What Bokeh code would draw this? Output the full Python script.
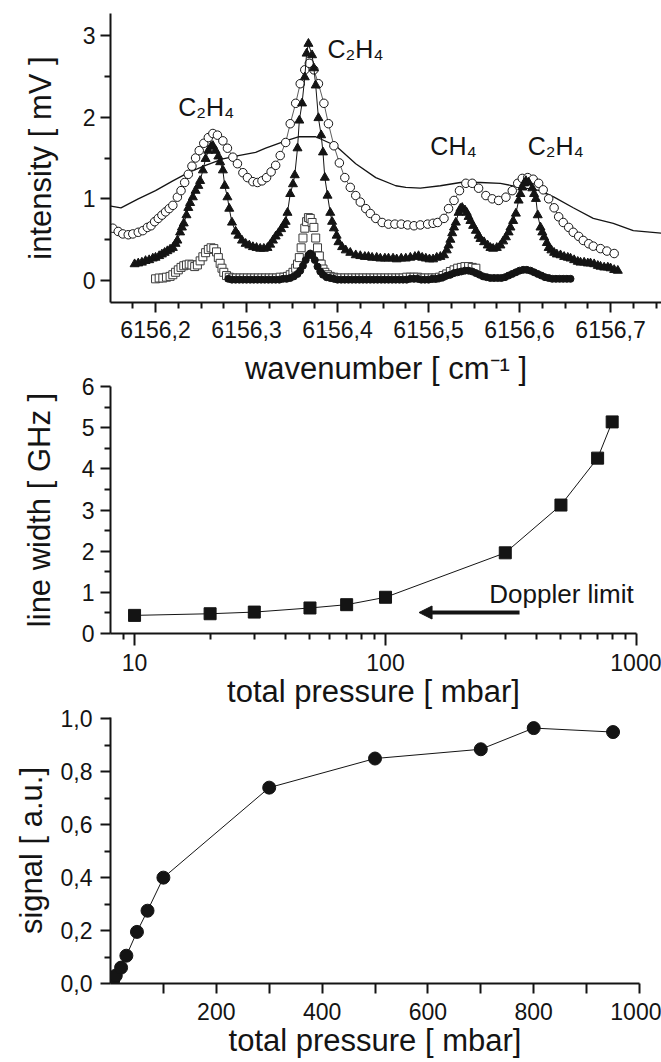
from bokeh.plotting import figure
from bokeh.models import Range1d, FixedTicker, Label, Arrow, NormalHead
from bokeh.layouts import column
from bokeh.embed import file_html
from bokeh.resources import INLINE

FONT = "Liberation Sans"
INK = "#141414"

# ---------------- panel 1: spectra ----------------
wn_ticks = [6156.2, 6156.3, 6156.4, 6156.5, 6156.6, 6156.7]
wn_labels = ["6156,2", "6156,3", "6156,4", "6156,5", "6156,6", "6156,7"]
wn_minor = [6156.15, 6156.175, 6156.225, 6156.25, 6156.275, 6156.325, 6156.35, 6156.375,
            6156.425, 6156.45, 6156.475, 6156.525, 6156.55, 6156.575, 6156.625, 6156.65,
            6156.675, 6156.725, 6156.75]
int_ticks = [0, 1, 2, 3]
int_minor = [0.5, 1.5, 2.5]

line_x = [6156.151, 6156.162, 6156.181, 6156.200, 6156.219, 6156.236, 6156.255, 6156.274, 6156.291, 6156.310,
          6156.321, 6156.343, 6156.357, 6156.376, 6156.398, 6156.420, 6156.442, 6156.464, 6156.475, 6156.491,
          6156.513, 6156.535, 6156.557, 6156.579, 6156.601, 6156.623, 6156.638, 6156.659, 6156.681, 6156.703,
          6156.725, 6156.756]
line_y = [0.91, 0.89, 1.00, 1.10, 1.22, 1.32, 1.41, 1.49, 1.53, 1.57,
          1.62, 1.71, 1.76, 1.76, 1.65, 1.43, 1.26, 1.16, 1.14, 1.13,
          1.16, 1.20, 1.20, 1.19, 1.14, 1.10, 1.02, 0.89, 0.76, 0.70,
          0.61, 0.58]

circ_x = [6156.153, 6156.159, 6156.164, 6156.170, 6156.175, 6156.181, 6156.186, 6156.191, 6156.195, 6156.199,
          6156.203, 6156.207, 6156.211, 6156.215, 6156.219, 6156.224, 6156.228, 6156.232, 6156.236, 6156.240,
          6156.244, 6156.248, 6156.253, 6156.258, 6156.263, 6156.268, 6156.274, 6156.279, 6156.285, 6156.290,
          6156.296, 6156.301, 6156.307, 6156.312, 6156.317, 6156.322, 6156.327, 6156.332, 6156.337, 6156.343,
          6156.348, 6156.354, 6156.359, 6156.364, 6156.369, 6156.374, 6156.379, 6156.385, 6156.390, 6156.396,
          6156.402, 6156.408, 6156.414, 6156.420, 6156.425, 6156.431, 6156.436, 6156.442, 6156.449, 6156.456,
          6156.463, 6156.470, 6156.477, 6156.484, 6156.491, 6156.499, 6156.505, 6156.510, 6156.517, 6156.522,
          6156.528, 6156.534, 6156.541, 6156.548, 6156.555, 6156.563, 6156.570, 6156.577, 6156.585, 6156.592,
          6156.598, 6156.603, 6156.609, 6156.615, 6156.621, 6156.626, 6156.632, 6156.638, 6156.643, 6156.648,
          6156.654, 6156.659, 6156.665, 6156.670, 6156.676, 6156.681, 6156.689, 6156.696, 6156.704]
circ_y = [0.64, 0.60, 0.57, 0.56, 0.57, 0.59, 0.61, 0.65, 0.67, 0.72,
          0.76, 0.80, 0.84, 0.88, 0.92, 1.02, 1.10, 1.20, 1.30, 1.40,
          1.50, 1.59, 1.68, 1.75, 1.80, 1.78, 1.71, 1.62, 1.51, 1.43,
          1.32, 1.26, 1.21, 1.20, 1.22, 1.26, 1.33, 1.41, 1.53, 1.69,
          1.92, 2.17, 2.41, 2.58, 2.66, 2.58, 2.41, 2.17, 1.92, 1.65,
          1.44, 1.26, 1.14, 1.04, 0.96, 0.88, 0.82, 0.76, 0.71, 0.69,
          0.69, 0.69, 0.68, 0.67, 0.68, 0.69, 0.70, 0.71, 0.76, 0.88,
          0.98, 1.10, 1.19, 1.19, 1.13, 1.04, 1.00, 0.98, 1.02, 1.10,
          1.19, 1.25, 1.26, 1.24, 1.19, 1.11, 1.00, 0.89, 0.78, 0.71,
          0.65, 0.59, 0.54, 0.49, 0.45, 0.42, 0.39, 0.36, 0.33]

tri_x = [6156.177, 6156.181, 6156.185, 6156.189, 6156.193, 6156.197, 6156.200, 6156.204, 6156.207, 6156.210,
         6156.213, 6156.216, 6156.219, 6156.222, 6156.224, 6156.227, 6156.229, 6156.231, 6156.234, 6156.236,
         6156.238, 6156.241, 6156.244, 6156.247, 6156.249, 6156.252, 6156.255, 6156.258, 6156.261, 6156.263,
         6156.266, 6156.269, 6156.271, 6156.274, 6156.276, 6156.279, 6156.281, 6156.284, 6156.288, 6156.291,
         6156.295, 6156.299, 6156.303, 6156.307, 6156.311, 6156.315, 6156.319, 6156.323, 6156.326, 6156.329,
         6156.332, 6156.335, 6156.338, 6156.341, 6156.343, 6156.345, 6156.348, 6156.351, 6156.353, 6156.356,
         6156.358, 6156.361, 6156.364, 6156.366, 6156.368, 6156.372, 6156.374, 6156.376, 6156.379, 6156.382,
         6156.384, 6156.386, 6156.389, 6156.392, 6156.394, 6156.396, 6156.399, 6156.401, 6156.405, 6156.409,
         6156.414, 6156.420, 6156.425, 6156.430, 6156.434, 6156.438, 6156.443, 6156.447, 6156.452, 6156.456,
         6156.461, 6156.465, 6156.470, 6156.475, 6156.480, 6156.485, 6156.489, 6156.493, 6156.497, 6156.501,
         6156.505, 6156.509, 6156.513, 6156.517, 6156.520, 6156.522, 6156.524, 6156.526, 6156.528, 6156.530,
         6156.533, 6156.535, 6156.537, 6156.540, 6156.542, 6156.544, 6156.546, 6156.549, 6156.552, 6156.555,
         6156.557, 6156.561, 6156.565, 6156.568, 6156.571, 6156.575, 6156.579, 6156.582, 6156.585, 6156.588,
         6156.590, 6156.593, 6156.596, 6156.599, 6156.601, 6156.603, 6156.605, 6156.607, 6156.610, 6156.614,
         6156.616, 6156.618, 6156.620, 6156.623, 6156.625, 6156.627, 6156.630, 6156.632, 6156.635, 6156.638,
         6156.641, 6156.645, 6156.649, 6156.653, 6156.656, 6156.660, 6156.664, 6156.667, 6156.671, 6156.675,
         6156.678, 6156.682, 6156.686, 6156.689, 6156.693, 6156.697, 6156.700, 6156.704, 6156.708]
tri_y = [0.20, 0.21, 0.22, 0.24, 0.25, 0.27, 0.28, 0.30, 0.32, 0.34,
         0.36, 0.38, 0.40, 0.45, 0.49, 0.59, 0.65, 0.70, 0.80, 0.89,
         0.95, 1.02, 1.10, 1.16, 1.22, 1.35, 1.49, 1.59, 1.64, 1.65,
         1.59, 1.52, 1.45, 1.35, 1.16, 1.02, 0.88, 0.71, 0.60, 0.55,
         0.49, 0.45, 0.43, 0.41, 0.40, 0.39, 0.39, 0.40, 0.44, 0.49,
         0.54, 0.58, 0.63, 0.68, 0.72, 0.83, 1.06, 1.18, 1.29, 1.62,
         1.96, 2.17, 2.49, 2.78, 2.90, 2.76, 2.60, 2.39, 1.99, 1.78,
         1.57, 1.26, 1.04, 0.83, 0.72, 0.64, 0.55, 0.47, 0.41, 0.37,
         0.34, 0.31, 0.30, 0.29, 0.29, 0.28, 0.28, 0.27, 0.27, 0.27,
         0.27, 0.26, 0.27, 0.27, 0.28, 0.29, 0.30, 0.28, 0.27, 0.26,
         0.26, 0.28, 0.29, 0.31, 0.37, 0.43, 0.50, 0.58, 0.65, 0.71,
         0.83, 0.88, 0.89, 0.86, 0.83, 0.78, 0.73, 0.67, 0.61, 0.55,
         0.51, 0.47, 0.43, 0.40, 0.39, 0.40, 0.43, 0.48, 0.53, 0.59,
         0.65, 0.73, 0.82, 0.98, 1.06, 1.14, 1.19, 1.22, 1.20, 1.13,
         1.06, 1.00, 0.80, 0.65, 0.59, 0.53, 0.46, 0.40, 0.37, 0.34,
         0.32, 0.31, 0.29, 0.28, 0.27, 0.25, 0.23, 0.22, 0.22, 0.21,
         0.21, 0.20, 0.18, 0.17, 0.16, 0.16, 0.15, 0.13, 0.12]

sq_x = [6156.200, 6156.204, 6156.208, 6156.212, 6156.216, 6156.219, 6156.222, 6156.225, 6156.228, 6156.231,
        6156.234, 6156.237, 6156.240, 6156.243, 6156.246, 6156.249, 6156.252, 6156.255, 6156.258, 6156.261,
        6156.264, 6156.267, 6156.269, 6156.271, 6156.273, 6156.275, 6156.278, 6156.281, 6156.285, 6156.289,
        6156.293, 6156.297, 6156.301, 6156.305, 6156.309, 6156.313, 6156.317, 6156.321, 6156.325, 6156.329,
        6156.333, 6156.337, 6156.341, 6156.345, 6156.348, 6156.351, 6156.354, 6156.356, 6156.358, 6156.360,
        6156.362, 6156.364, 6156.366, 6156.368, 6156.370, 6156.372, 6156.374, 6156.376, 6156.378, 6156.380,
        6156.382, 6156.384, 6156.386, 6156.389, 6156.392, 6156.396, 6156.400, 6156.404, 6156.408, 6156.412,
        6156.416, 6156.420, 6156.424, 6156.428, 6156.432, 6156.436, 6156.440, 6156.444, 6156.448, 6156.452,
        6156.456, 6156.460, 6156.464, 6156.468, 6156.472, 6156.476, 6156.480, 6156.484, 6156.488, 6156.492,
        6156.496, 6156.500, 6156.504, 6156.508, 6156.512, 6156.516, 6156.520, 6156.524, 6156.528, 6156.532,
        6156.536, 6156.540, 6156.544, 6156.548, 6156.552]
sq_y = [0.02, 0.03, 0.03, 0.04, 0.05, 0.07, 0.10, 0.13, 0.16, 0.18,
        0.19, 0.20, 0.19, 0.17, 0.19, 0.24, 0.29, 0.34, 0.38, 0.40,
        0.39, 0.35, 0.28, 0.21, 0.15, 0.10, 0.06, 0.04, 0.03, 0.03,
        0.03, 0.03, 0.03, 0.03, 0.03, 0.03, 0.03, 0.03, 0.03, 0.03,
        0.03, 0.04, 0.04, 0.05, 0.07, 0.10, 0.15, 0.20, 0.28, 0.40,
        0.52, 0.64, 0.72, 0.77, 0.76, 0.71, 0.65, 0.52, 0.40, 0.30,
        0.20, 0.14, 0.10, 0.07, 0.05, 0.04, 0.03, 0.03, 0.03, 0.03,
        0.03, 0.03, 0.03, 0.03, 0.03, 0.03, 0.03, 0.03, 0.03, 0.03,
        0.03, 0.03, 0.03, 0.03, 0.03, 0.04, 0.04, 0.04, 0.04, 0.03,
        0.03, 0.03, 0.03, 0.03, 0.04, 0.06, 0.08, 0.11, 0.13, 0.15,
        0.16, 0.17, 0.17, 0.16, 0.15]

dot_x = [6156.280, 6156.284, 6156.288, 6156.292, 6156.296, 6156.300, 6156.304, 6156.308, 6156.312, 6156.316,
         6156.320, 6156.324, 6156.328, 6156.332, 6156.336, 6156.340, 6156.344, 6156.348, 6156.352, 6156.356,
         6156.359, 6156.362, 6156.365, 6156.368, 6156.370, 6156.372, 6156.375, 6156.378, 6156.381, 6156.384,
         6156.388, 6156.392, 6156.396, 6156.400, 6156.404, 6156.408, 6156.412, 6156.416, 6156.420, 6156.424,
         6156.428, 6156.432, 6156.436, 6156.440, 6156.444, 6156.448, 6156.452, 6156.456, 6156.460, 6156.464,
         6156.468, 6156.472, 6156.476, 6156.480, 6156.484, 6156.488, 6156.492, 6156.496, 6156.500, 6156.504,
         6156.508, 6156.512, 6156.516, 6156.520, 6156.524, 6156.528, 6156.532, 6156.536, 6156.540, 6156.544,
         6156.548, 6156.552, 6156.556, 6156.560, 6156.564, 6156.568, 6156.572, 6156.576, 6156.580, 6156.584,
         6156.588, 6156.592, 6156.596, 6156.600, 6156.604, 6156.608, 6156.612, 6156.616, 6156.620, 6156.624,
         6156.628, 6156.632, 6156.636, 6156.640, 6156.644, 6156.648, 6156.652, 6156.656]
dot_y = [0.02, 0.01, 0.01, 0.01, 0.01, 0.01, 0.01, 0.01, 0.01, 0.01,
         0.01, 0.01, 0.01, 0.01, 0.01, 0.02, 0.02, 0.03, 0.05, 0.08,
         0.12, 0.18, 0.25, 0.31, 0.33, 0.31, 0.25, 0.17, 0.11, 0.07,
         0.04, 0.03, 0.02, 0.01, 0.01, 0.01, 0.01, 0.01, 0.01, 0.01,
         0.01, 0.01, 0.01, 0.01, 0.01, 0.01, 0.01, 0.01, 0.01, 0.01,
         0.01, 0.01, 0.01, 0.02, 0.02, 0.02, 0.01, 0.01, 0.01, 0.02,
         0.02, 0.03, 0.04, 0.06, 0.07, 0.09, 0.10, 0.11, 0.12, 0.12,
         0.11, 0.09, 0.07, 0.05, 0.04, 0.03, 0.03, 0.03, 0.03, 0.04,
         0.06, 0.08, 0.10, 0.12, 0.13, 0.13, 0.12, 0.10, 0.08, 0.06,
         0.04, 0.03, 0.02, 0.02, 0.02, 0.02, 0.02, 0.02]

for a, b in [(line_x, line_y), (circ_x, circ_y), (tri_x, tri_y), (sq_x, sq_y), (dot_x, dot_y)]:
    assert len(a) == len(b), (len(a), len(b))

peak_labels = ["C₂H₄", "C₂H₄", "CH₄", "C₂H₄"]
peak_label_x = [6156.225, 6156.389, 6156.502, 6156.609]
peak_label_y = [2.13, 2.83, 1.65, 1.65]

# ---------------- panel 2: line width ----------------
pw_pressure = [10, 20, 30, 50, 70, 100, 300, 500, 700, 800]
pw_width = [0.44, 0.48, 0.52, 0.62, 0.70, 0.88, 1.96, 3.12, 4.26, 5.14]
pw_xticks = [10, 100, 1000]
pw_xlabels = ["10", "100", "1000"]
pw_xminor = [8, 9, 20, 30, 40, 50, 60, 70, 80, 90, 200, 300, 400, 500, 600, 700, 800, 900]
pw_yticks = [0, 1, 2, 3, 4, 5, 6]
pw_yminor = [0.5, 1.5, 2.5, 3.5, 4.5, 5.5]
doppler_text = "Doppler limit"
doppler_pos = (259, 0.95)
doppler_arrow = (342, 136, 0.51)

# ---------------- panel 3: signal ----------------
sg_pressure = [5, 10, 20, 30, 50, 70, 100, 300, 500, 700, 800, 950]
sg_signal = [0.01, 0.03, 0.06, 0.105, 0.195, 0.275, 0.40, 0.74, 0.85, 0.885, 0.965, 0.95]
sg_xticks = [200, 400, 600, 800, 1000]
sg_xminor = [100, 300, 500, 700, 900]
sg_yticks = [0, 0.2, 0.4, 0.6, 0.8, 1.0]
sg_ylabels = ["0,0", "0,2", "0,4", "0,6", "0,8", "1,0"]
sg_yminor = [0.1, 0.3, 0.5, 0.7, 0.9]


def style(p, lab_standoff_x, lab_standoff_y, axlab_standoff_x, axlab_standoff_y):
    p.xgrid.visible = False
    p.ygrid.visible = False
    p.outline_line_color = None
    p.border_fill_color = None
    p.background_fill_color = None
    for ax in p.axis:
        ax.axis_line_width = 2
        ax.axis_line_color = INK
        ax.major_tick_line_color = INK
        ax.minor_tick_line_color = INK
        ax.major_tick_line_width = 2
        ax.minor_tick_line_width = 2
        ax.major_tick_in = 0
        ax.major_tick_out = 10
        ax.minor_tick_in = 0
        ax.minor_tick_out = 6
        ax.major_label_text_font = FONT
        ax.major_label_text_font_size = "23px"
        ax.major_label_text_color = INK
        ax.axis_label_text_font = FONT
        ax.axis_label_text_font_size = "31px"
        ax.axis_label_text_font_style = "normal"
        ax.axis_label_text_color = INK
    p.xaxis.major_label_standoff = lab_standoff_x
    p.yaxis.major_label_standoff = lab_standoff_y
    p.xaxis.axis_label_standoff = axlab_standoff_x
    p.yaxis.axis_label_standoff = axlab_standoff_y


# ---- panel 1
p1 = figure(frame_width=551, frame_height=289, min_border_left=110, min_border_right=0,
            min_border_top=13, min_border_bottom=94,
            x_range=Range1d(6156.1505, 6156.756), y_range=Range1d(-0.27, 3.27),
            output_backend="svg", toolbar_location=None)
style(p1, 8, 5, 10, 22)
p1.xaxis.axis_label = "wavenumber [ cm⁻¹ ]"
p1.yaxis.axis_label = "intensity [ mV ]"
p1.xaxis.ticker = FixedTicker(ticks=wn_ticks, minor_ticks=wn_minor)
p1.xaxis.major_label_overrides = dict(zip(wn_ticks, wn_labels))
p1.yaxis.ticker = FixedTicker(ticks=int_ticks, minor_ticks=int_minor)

p1.line(line_x, line_y, line_color=INK, line_width=1.3)
p1.line(circ_x, circ_y, line_color="#333333", line_width=0.8)
p1.scatter(circ_x, circ_y, marker="circle", size=8.5, fill_color="white",
           line_color=INK, line_width=1)
p1.line(tri_x, tri_y, line_color=INK, line_width=1)
p1.scatter(tri_x, tri_y, marker="triangle", size=9, fill_color=INK, line_color=INK)
p1.scatter(sq_x, sq_y, marker="square", size=8, fill_color="white", line_color="#3c3c3c", line_width=1)
p1.scatter(dot_x, dot_y, marker="circle", size=7, fill_color=INK, line_color=INK)
for t, lx, ly in zip(peak_labels, peak_label_x, peak_label_y):
    p1.add_layout(Label(x=lx, y=ly, text=t, text_font=FONT, text_font_size="25px",
                        text_color=INK, text_baseline="alphabetic"))

# ---- panel 2
p2 = figure(frame_width=526, frame_height=247, min_border_left=108, min_border_right=27,
            min_border_top=18, min_border_bottom=82, x_axis_type="log",
            x_range=Range1d(8.02, 1000), y_range=Range1d(0, 6),
            output_backend="svg", toolbar_location=None)
style(p2, 8, 6, 0, 22)
p2.margin = (-28, 0, 0, 0)
p2.xaxis.axis_label = "total pressure [ mbar]"
p2.yaxis.axis_label = "line width [ GHz ]"
p2.xaxis.ticker = FixedTicker(ticks=pw_xticks, minor_ticks=pw_xminor)
p2.xaxis.major_label_overrides = dict(zip(pw_xticks, pw_xlabels))
p2.xaxis.major_tick_out = 12
p2.yaxis.ticker = FixedTicker(ticks=pw_yticks, minor_ticks=pw_yminor)
p2.line(pw_pressure, pw_width, line_color=INK, line_width=1)
p2.scatter(pw_pressure, pw_width, marker="square", size=12, fill_color=INK, line_color=INK)
p2.add_layout(Label(x=doppler_pos[0], y=doppler_pos[1], text=doppler_text, text_font=FONT,
                    text_font_size="26px", text_color=INK, text_baseline="alphabetic"))
p2.add_layout(Arrow(end=NormalHead(size=13, fill_color=INK, line_color=INK),
                    x_start=doppler_arrow[0], y_start=doppler_arrow[2],
                    x_end=doppler_arrow[1], y_end=doppler_arrow[2],
                    line_color=INK, line_width=4))

# ---- panel 3
p3 = figure(frame_width=529, frame_height=266, min_border_left=104, min_border_right=28,
            min_border_top=18, min_border_bottom=79,
            x_range=Range1d(0, 1000), y_range=Range1d(0, 1.005),
            output_backend="svg", toolbar_location=None)
style(p3, 9, 8, 0, 9)
p3.margin = (-16, 0, 0, 0)
p3.xaxis.axis_label = "total pressure [ mbar]"
p3.yaxis.axis_label = "signal [ a.u.]"
p3.xaxis.ticker = FixedTicker(ticks=sg_xticks, minor_ticks=sg_xminor)
p3.xaxis.minor_tick_out = 10
p3.yaxis.ticker = FixedTicker(ticks=sg_yticks, minor_ticks=sg_yminor)
p3.yaxis.major_label_overrides = dict(zip(sg_yticks, sg_ylabels))
p3.line(sg_pressure, sg_signal, line_color=INK, line_width=1)
p3.scatter(sg_pressure, sg_signal, marker="circle", size=13, fill_color=INK, line_color=INK)

layout = column(p1, p2, p3, spacing=0)
open("out.html", "w").write(file_html(layout, INLINE))
